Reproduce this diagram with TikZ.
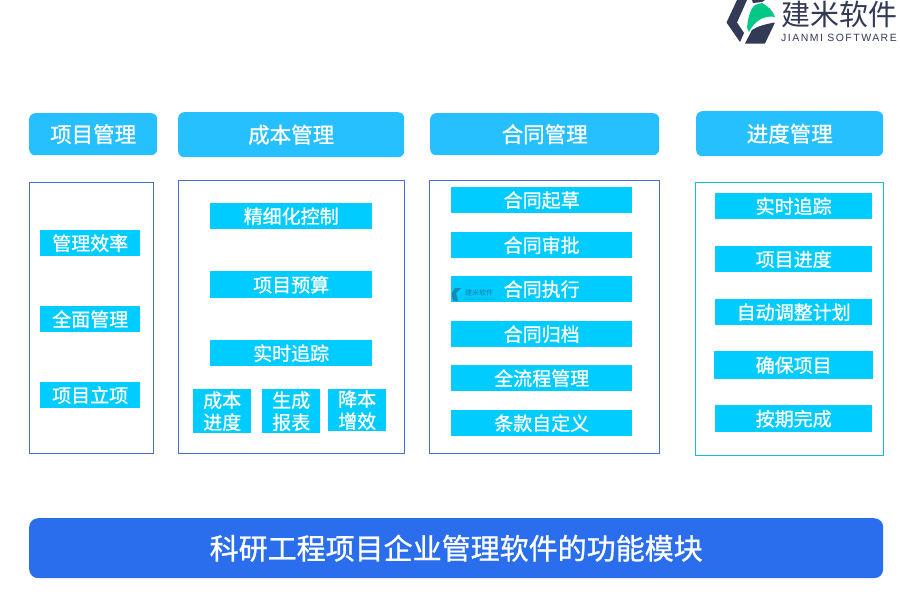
\documentclass[tikz,border=0pt]{standalone}
\usepackage{fontspec}
\setmainfont[BoldFont={Noto Sans CJK SC},BoldFeatures={FakeBold=0.9}]{Noto Sans CJK SC}
\newfontfamily\logolat[LetterSpace=14]{Liberation Sans}
\definecolor{headblue}{RGB}{38,191,255}
\definecolor{itemblue}{RGB}{0,204,255}
\definecolor{framblue}{RGB}{72,110,205}
\definecolor{framteal}{RGB}{20,190,200}
\definecolor{barblue}{RGB}{42,110,238}
\definecolor{logonavy}{RGB}{50,58,86}
\definecolor{logogreen}{RGB}{0,200,135}
\tikzset{
  headbox/.style={fill=headblue,rounded corners=6pt,text=white,font=\fontsize{21.5}{24}\selectfont\bfseries,inner sep=0pt},
  itembox/.style={fill=itemblue,text=white,font=\fontsize{19}{22}\selectfont\bfseries,inner sep=0pt},
  panel/.style={draw=framblue,line width=0.7pt,fill=white},
}
% box from corners: \boxat{name}{style}{x1}{y1}{x2}{y2}{text}
\newcommand{\boxat}[7]{\node[#2,minimum width=#5-#3,minimum height=#6-#4,align=center,
  anchor=north west] (#1) at (#3,#4) {#7};}
\begin{document}
\begin{tikzpicture}[x=1pt,y=-1pt]
  \useasboundingbox (0,0) rectangle (900,600);
  % panels
  \draw[panel] (29.5,182.5) rectangle (153.5,453.5);
  \draw[panel] (178.5,180.5) rectangle (404.5,453.5);
  \draw[panel] (429.5,180.5) rectangle (659.5,453.5);
  \draw[panel,draw=framteal] (695.5,182.5) rectangle (883.5,455.5);
  % heads
  \boxat{headA}{headbox}{29}{113}{157}{155}{项目管理}
  \boxat{headB}{headbox}{178}{112}{404}{157}{成本管理}
  \boxat{headC}{headbox}{430}{113}{659}{155}{合同管理}
  \boxat{headD}{headbox}{696}{111}{883}{156}{进度管理}
  % column 1
  \boxat{effic}{itembox}{40}{230}{140}{256}{管理效率}
  \boxat{whole}{itembox}{40}{306}{140}{332}{全面管理}
  \boxat{setup}{itembox}{40}{382}{140}{408}{项目立项}
  % column 2
  \boxat{fine}{itembox}{210}{203}{372}{229}{精细化控制}
  \boxat{budget}{itembox}{210}{271}{372}{298}{项目预算}
  \boxat{track}{itembox}{210}{340}{372}{366}{实时追踪}
  \boxat{cost}{itembox}{193}{389}{251}{433}{成本\\进度}
  \boxat{report}{itembox}{262}{389}{320}{433}{生成\\报表}
  \boxat{lower}{itembox}{328}{389}{386}{431}{降本\\增效}
  % column 3
  \foreach \n/\y/\t in {draft/187/合同起草,audit/232/合同审批,exec/276/合同执行,arch/321/合同归档,flow/365/全流程管理,term/410/条款自定义}{
    \boxat{\n}{itembox}{451}{\y}{632}{\y+26}{\t}
  }
  % small logo on the execution row
  \node[text=logonavy!55!itemblue,font=\fontsize{7}{8}\selectfont,inner sep=0pt] (markC) at (479,292.5) {建米软件};
  \node[text=logonavy!35!itemblue,font=\logolat\fontsize{3}{4}\selectfont,inner sep=0pt] (markL) at (479,299) {JIANMI SOFTWARE};
  \fill[logonavy!45!itemblue] (452,298) -- (452,293) -- (455,288) -- (461,288) -- (456,293) -- (458,301) -- (454,301) -- cycle;
  % column 4
  \boxat{trackD}{itembox}{715}{193}{872}{219}{实时追踪}
  \boxat{sched}{itembox}{715}{246}{872}{272}{项目进度}
  \boxat{adjust}{itembox}{715}{299}{872}{325}{自动调整计划}
  \boxat{ensure}{itembox}{714}{351}{873}{379}{确保项目}
  \boxat{ontime}{itembox}{715}{405}{872}{432}{按期完成}
  % bottom bar
  \node[fill=barblue,rounded corners=9pt,text=white,font=\fontsize{29}{32}\selectfont\bfseries,inner sep=0pt,
    minimum width=854,minimum height=60,anchor=north west] (titlebar) at (29,518) {科研工程项目企业管理软件的功能模块};
  % logo
  \fill[logonavy] (737,0) -- (747,0) -- (737,22.5) -- (744,33) -- (740,42) -- (726.5,22.5) -- cycle;
  \fill[logonavy] (752,0) -- (765,0) -- (762,2) -- (753,3) -- cycle;
  \fill[logonavy] (745,43.5) -- (752,30) .. controls (758,26) and (766,24) .. (775,22.5) -- (765,43.5) -- cycle;
  \fill[logogreen] (747,28) .. controls (748,16) and (751,8) .. (755,5) -- (762,3) .. controls (768,6) and (773,11) .. (775,17) .. controls (765,15) and (755,20) .. (749,32) -- cycle;
  \node[text=logonavy,font=\fontsize{29}{30}\selectfont,inner sep=0pt] (logoname) at (839.5,14) {建米软件};
  \node[text=logonavy,font=\logolat\fontsize{10.5}{12}\selectfont,inner sep=0pt] (logolatin) at (839,38) {JIANMI SOFTWARE};
\end{tikzpicture}
\end{document}
